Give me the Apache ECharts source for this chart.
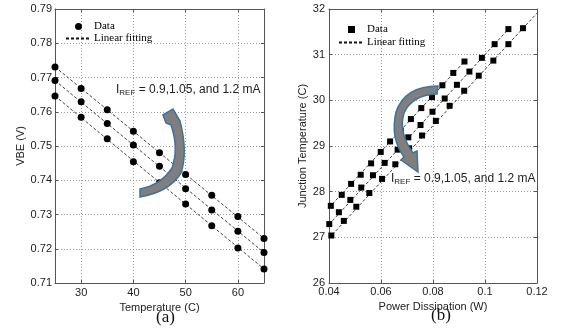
<!DOCTYPE html>
<html>
<head>
<meta charset="utf-8">
<script src="https://cdn.jsdelivr.net/npm/echarts@6/dist/echarts.min.js"></script>
<style>
  html, body {margin: 0; padding: 0; background: #fff;}
  #chart {width: 561px; height: 329px;}
</style>
</head>
<body>
<div id="chart"></div>
<script>
// (a) VBE vs temperature, three reference currents
const tempC = [25, 30, 35, 40, 45, 50, 55, 60, 65];
const vbe_1p2 = [0.7731, 0.7668, 0.7606, 0.7543, 0.7480, 0.7417, 0.7356, 0.7294, 0.7230];
const vbe_1p05 = [0.7691, 0.7629, 0.7566, 0.7503, 0.7441, 0.7375, 0.7313, 0.7251, 0.7189];
const vbe_0p9 = [0.7646, 0.7584, 0.7521, 0.7454, 0.7393, 0.7331, 0.7267, 0.7202, 0.7141];
const fitA_1p2 = [[25, 0.7731], [65, 0.7230]];
const fitA_1p05 = [[25, 0.7691], [65, 0.7189]];
const fitA_0p9 = [[25, 0.7646], [65, 0.7141]];

// (b) junction temperature vs power dissipation
const pw_0p9 = [0.0407, 0.0449, 0.0485, 0.0522, 0.0562, 0.0599, 0.0635, 0.0676, 0.0715, 0.0755, 0.0796, 0.0836, 0.0878, 0.0921];
const tj_0p9 = [27.69, 27.93, 28.17, 28.37, 28.62, 28.87, 29.10, 29.34, 29.59, 29.83, 30.07, 30.33, 30.60, 30.85];
const pw_1p05 = [0.0401, 0.0438, 0.0482, 0.0524, 0.0569, 0.0614, 0.0664, 0.0705, 0.0752, 0.0798, 0.0845, 0.0892, 0.0940, 0.0988, 0.1037, 0.1090];
const tj_1p05 = [27.29, 27.55, 27.82, 28.09, 28.36, 28.63, 28.92, 29.19, 29.46, 29.75, 30.04, 30.34, 30.63, 30.93, 31.23, 31.56];
const pw_1p2 = [0.0409, 0.0457, 0.0505, 0.0555, 0.0604, 0.0655, 0.0708, 0.0758, 0.0811, 0.0864, 0.0920, 0.0976, 0.1032, 0.1090, 0.1146];
const tj_1p2 = [27.04, 27.36, 27.67, 27.97, 28.28, 28.60, 28.95, 29.23, 29.55, 29.88, 30.21, 30.54, 30.87, 31.23, 31.58];
const fitB_0p9 = [[0.04, 27.65], [0.0921, 30.85]];
const fitB_1p05 = [[0.04, 27.28], [0.109, 31.56]];
const fitB_1p2 = [[0.04, 26.98], [0.12, 31.91]];

const legendNames = {dataA: 'Data', fitA: 'Linear fitting', dataB: 'Data', fitB: 'Linear fitting'};

const zip = (xs, ys) => xs.map((x, i) => [x, ys[i]]);

const sans = 'Liberation Sans, Arial, sans-serif';
const serif = 'Liberation Serif, Times New Roman, serif';
const grid = [
  {left: 55, top: 9, width: 209, height: 274},
  {left: 329, top: 9, width: 208, height: 274},
];

const splitLine = {show: true, lineStyle: {color: '#9a9a9a', type: [1, 2], width: 1}};
const axisLine = {show: true, lineStyle: {color: '#555', width: 1}};
const axisTick = {show: true, inside: true, length: 3, lineStyle: {color: '#555'}};
const label = {color: '#222', fontFamily: sans, fontSize: 11};
const nameStyle = {color: '#222', fontFamily: sans, fontSize: 11};

const mirror = (base, pos, idx) => Object.assign({}, base, {
  position: pos, gridIndex: idx, name: '', axisLabel: {show: false}, splitLine: {show: false},
});

const xA = {type: 'value', gridIndex: 0, min: 25, max: 65, splitNumber: 4,
  axisLine, axisTick, splitLine,
  axisLabel: Object.assign({margin: 4, showMinLabel: false, showMaxLabel: false}, label),
  name: 'Temperature (C)', nameLocation: 'middle', nameGap: 15, nameTextStyle: nameStyle};
const xB = {type: 'value', gridIndex: 1, min: 0.04, max: 0.12, interval: 0.02,
  axisLine, axisTick, splitLine,
  axisLabel: Object.assign({margin: 3}, label),
  name: 'Power Dissipation (W)', nameLocation: 'middle', nameGap: 15, nameTextStyle: nameStyle};
const yA = {type: 'value', gridIndex: 0, min: 0.71, max: 0.79, interval: 0.01,
  axisLine, axisTick, splitLine,
  axisLabel: Object.assign({margin: 3}, label),
  name: 'VBE (V)', nameLocation: 'middle', nameGap: 28, nameTextStyle: nameStyle};
const yB = {type: 'value', gridIndex: 1, min: 26, max: 32, interval: 1,
  axisLine, axisTick, splitLine,
  axisLabel: Object.assign({margin: 4}, label),
  name: 'Junction Temperature (C)', nameLocation: 'middle', nameGap: 19, nameTextStyle: nameStyle};

const dataSeries = (name, xi, pts, symbol, size) => ({
  type: 'scatter', name, xAxisIndex: xi, yAxisIndex: xi, data: pts,
  symbol, symbolSize: size, itemStyle: {color: '#000', opacity: 1}, z: 3,
});
const fitSeries = (name, xi, pts) => ({
  type: 'line', name, xAxisIndex: xi, yAxisIndex: xi, data: pts,
  symbol: 'none', clip: false, itemStyle: {color: '#111'},
  lineStyle: {color: '#111', width: 0.8, type: [3, 2]}, z: 2,
});

const legendBase = {
  orient: 'vertical', itemWidth: 25, itemHeight: 7, itemGap: 1, padding: 0,
  formatter: n => legendNames[n],
  textStyle: {fontFamily: serif, fontSize: 11, color: '#000', padding: [0, 0, 0, -2]},
};
const squareIcon = 'path://M0,0L10,0L10,10L0,10Z';
const hideDot = {itemStyle: {opacity: 0}};

// curved arrow shapes (annotation decoration)
echarts.graphic.registerShape('arrowA', echarts.graphic.extendPath(
  'M163,115 L173,109 L180,121 Q188,152 181,173 Q169,192 140,197 L140,189 Q161,185 172,168 Q179,148 171,125 L166,123 Z', {}));
echarts.graphic.registerShape('arrowB', echarts.graphic.extendPath(
  'M438,86 Q405,86 396,112 Q390,138 404,157 L401,160 L418,172 L417,151 L413,153 Q398,132 404,113 Q412,95 437,94 Z', {}));
const arrowStyle = {fill: '#7f7f7f', stroke: '#41719c', lineWidth: 1.5};

const myChart = echarts.init(document.getElementById('chart'));
myChart.setOption({
  animation: false,
  backgroundColor: '#fff',
  grid,
  xAxis: [xA, xB, mirror(xA, 'top', 0), mirror(xB, 'top', 1)],
  yAxis: [yA, yB, mirror(yA, 'right', 0), mirror(yB, 'right', 1)],
  legend: [
    Object.assign({}, legendBase, {left: 65, top: 21,
      data: [{name: 'dataA', icon: 'circle'}, Object.assign({name: 'fitA'}, hideDot)]}),
    Object.assign({}, legendBase, {left: 338, top: 24, itemGap: 2,
      data: [{name: 'dataB', icon: squareIcon}, Object.assign({name: 'fitB'}, hideDot)]}),
  ],
  series: [
    fitSeries('fitA', 0, fitA_1p2),
    fitSeries('fitA', 0, fitA_1p05),
    fitSeries('fitA', 0, fitA_0p9),
    dataSeries('dataA', 0, zip(tempC, vbe_1p2), 'circle', 7),
    dataSeries('dataA', 0, zip(tempC, vbe_1p05), 'circle', 7),
    dataSeries('dataA', 0, zip(tempC, vbe_0p9), 'circle', 7),
    fitSeries('fitB', 1, fitB_0p9),
    fitSeries('fitB', 1, fitB_1p05),
    fitSeries('fitB', 1, fitB_1p2),
    dataSeries('dataB', 1, zip(pw_0p9, tj_0p9), 'rect', 6),
    dataSeries('dataB', 1, zip(pw_1p05, tj_1p05), 'rect', 6),
    dataSeries('dataB', 1, zip(pw_1p2, tj_1p2), 'rect', 6),
  ],
  graphic: [
    {type: 'arrowA', z: 10, style: arrowStyle},
    {type: 'arrowB', z: 10, style: arrowStyle},
    // annotations
    {type: 'text', left: 116, top: 84, z: 11, style: {
      text: '{i|I}{s|REF}{i| = 0.9,1.05, and 1.2 mA}',
      rich: {i: {fontFamily: sans, fontSize: 12, fill: '#222'},
        s: {fontFamily: sans, fontSize: 8, fill: '#222', padding: [6, 0, 0, 0]}}}},
    {type: 'text', left: 391, top: 173, z: 11, style: {
      text: '{i|I}{s|REF}{i| = 0.9,1.05, and 1.2 mA}',
      rich: {i: {fontFamily: sans, fontSize: 12, fill: '#222'},
        s: {fontFamily: sans, fontSize: 8, fill: '#222', padding: [6, 0, 0, 0]}}}},
    // panel captions
    {type: 'text', left: 156, top: 309, style: {text: '(a)', fontFamily: serif, fontSize: 17, fill: '#111'}},
    {type: 'text', left: 431, top: 307, style: {text: '(b)', fontFamily: serif, fontSize: 17, fill: '#111'}},
  ],
});
</script>
</body>
</html>
